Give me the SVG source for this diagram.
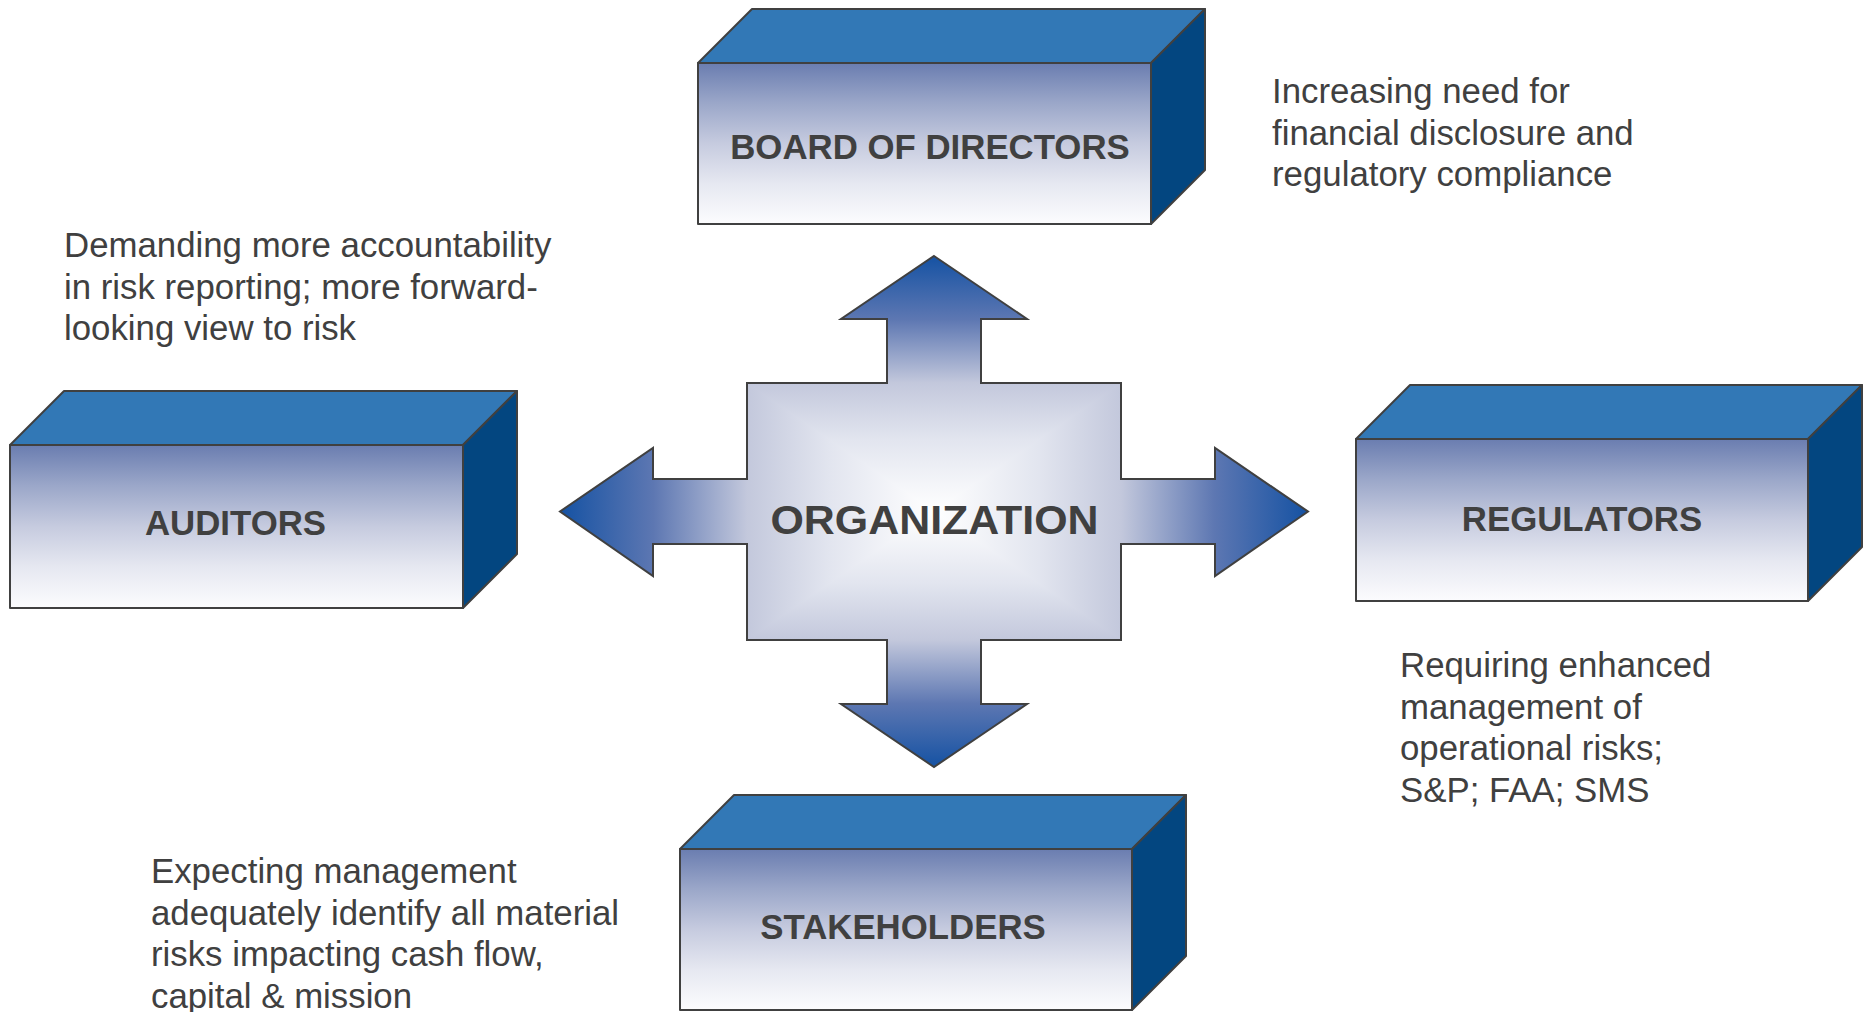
<svg xmlns="http://www.w3.org/2000/svg" width="1865" height="1012" viewBox="0 0 1865 1012">
<style>
.front{fill:url(#frontGrad);stroke:#404040;stroke-width:2;stroke-linejoin:round}
.top{fill:#3278b6;stroke:#404040;stroke-width:2;stroke-linejoin:round}
.side{fill:#034680;stroke:#404040;stroke-width:2;stroke-linejoin:round}
.lbl{font-family:"Liberation Sans",Arial,sans-serif;font-weight:bold;font-size:34.8px;fill:#404040;text-anchor:middle}
.org{font-family:"Liberation Sans",Arial,sans-serif;font-weight:bold;font-size:40px;fill:#404040;text-anchor:middle}
.note{font-family:"Liberation Sans",Arial,sans-serif;font-size:34.8px;fill:#404040}
</style>
<defs>
<linearGradient id="frontGrad" x1="0" y1="0" x2="0" y2="1">
<stop offset="0" stop-color="#6a7db0"/>
<stop offset="0.25" stop-color="#9ba7c9"/>
<stop offset="0.5" stop-color="#c6cbdf"/>
<stop offset="0.75" stop-color="#e6e8f1"/>
<stop offset="1" stop-color="#fcfcfe"/>
</linearGradient>
<linearGradient id="hGrad" gradientUnits="userSpaceOnUse" x1="560" y1="0" x2="1308" y2="0">
<stop offset="0" stop-color="#1552a3"/>
<stop offset="0.125" stop-color="#5d77b2"/>
<stop offset="0.25" stop-color="#c3c8dc"/>
<stop offset="0.36" stop-color="#e2e5ef"/>
<stop offset="0.5" stop-color="#ffffff"/>
<stop offset="0.64" stop-color="#e2e5ef"/>
<stop offset="0.75" stop-color="#c3c8dc"/>
<stop offset="0.875" stop-color="#5d77b2"/>
<stop offset="1" stop-color="#1552a3"/>
</linearGradient>
<linearGradient id="vGrad" gradientUnits="userSpaceOnUse" x1="0" y1="256" x2="0" y2="767">
<stop offset="0" stop-color="#1552a3"/>
<stop offset="0.124" stop-color="#5d77b2"/>
<stop offset="0.2485" stop-color="#c3c8dc"/>
<stop offset="0.36" stop-color="#e2e5ef"/>
<stop offset="0.5" stop-color="#ffffff"/>
<stop offset="0.64" stop-color="#e2e5ef"/>
<stop offset="0.7515" stop-color="#c3c8dc"/>
<stop offset="0.876" stop-color="#5d77b2"/>
<stop offset="1" stop-color="#1552a3"/>
</linearGradient>
</defs>

<g id="organization">
<path fill="url(#hGrad)" d="M560,511.5 L653,448 L653,479 L747,479 L747,383 L1121,383 L1121,479 L1215,479 L1215,448 L1308,511.5 L1215,576 L1215,544 L1121,544 L1121,640 L747,640 L747,544 L653,544 L653,576 Z"/>
<path fill="url(#vGrad)" d="M934,256 L1027,319 L981,319 L981,383 L1121,383 L934,511.5 L747,383 L887,383 L887,319 L841,319 Z"/>
<path fill="url(#vGrad)" d="M934,767 L1027,704 L981,704 L981,640 L1121,640 L934,511.5 L747,640 L887,640 L887,704 L841,704 Z"/>
<path fill="none" stroke="#404040" stroke-width="2" stroke-linejoin="miter" d="M934,256 L1027,319 L981,319 L981,383 L1121,383 L1121,479 L1215,479 L1215,448 L1308,511.5 L1215,576 L1215,544 L1121,544 L1121,640 L981,640 L981,704 L1027,704 L934,767 L841,704 L887,704 L887,640 L747,640 L747,544 L653,544 L653,576 L560,511.5 L653,448 L653,479 L747,479 L747,383 L887,383 L887,319 L841,319 Z"/>
<text class="org" x="934.5" y="534" textLength="328" lengthAdjust="spacingAndGlyphs">ORGANIZATION</text>
</g>

<g id="board-of-directors">
<polygon class="top" points="698,63 752,9 1205,9 1151,63"/>
<polygon class="side" points="1151,63 1205,9 1205,170 1151,224"/>
<rect class="front" x="698" y="63" width="453" height="161"/>
<text class="lbl" x="930" y="159">BOARD OF DIRECTORS</text>
</g>

<g id="auditors">
<polygon class="top" points="10,445 64,391 517,391 463,445"/>
<polygon class="side" points="463,445 517,391 517,554 463,608"/>
<rect class="front" x="10" y="445" width="453" height="163"/>
<text class="lbl" x="235.5" y="535">AUDITORS</text>
</g>

<g id="regulators">
<polygon class="top" points="1356,439 1410,385 1862,385 1808,439"/>
<polygon class="side" points="1808,439 1862,385 1862,547 1808,601"/>
<rect class="front" x="1356" y="439" width="452" height="162"/>
<text class="lbl" x="1582" y="531">REGULATORS</text>
</g>

<g id="stakeholders">
<polygon class="top" points="680,849 734,795 1186,795 1132,849"/>
<polygon class="side" points="1132,849 1186,795 1186,956 1132,1010"/>
<rect class="front" x="680" y="849" width="452" height="161"/>
<text class="lbl" x="903" y="939">STAKEHOLDERS</text>
</g>

<g id="connectors"></g>

<g id="notes">
<text class="note" x="1272" y="103">Increasing need for</text>
<text class="note" x="1272" y="144.5">financial disclosure and</text>
<text class="note" x="1272" y="186">regulatory compliance</text>

<text class="note" x="64" y="257">Demanding more accountability</text>
<text class="note" x="64" y="298.5">in risk reporting; more forward-</text>
<text class="note" x="64" y="340">looking view to risk</text>

<text class="note" x="1400" y="677">Requiring enhanced</text>
<text class="note" x="1400" y="718.5">management of</text>
<text class="note" x="1400" y="760">operational risks;</text>
<text class="note" x="1400" y="801.5">S&amp;P; FAA; SMS</text>

<text class="note" x="151" y="883">Expecting management</text>
<text class="note" x="151" y="924.5">adequately identify all material</text>
<text class="note" x="151" y="966">risks impacting cash flow,</text>
<text class="note" x="151" y="1007.5">capital &amp; mission</text>
</g>
</svg>
